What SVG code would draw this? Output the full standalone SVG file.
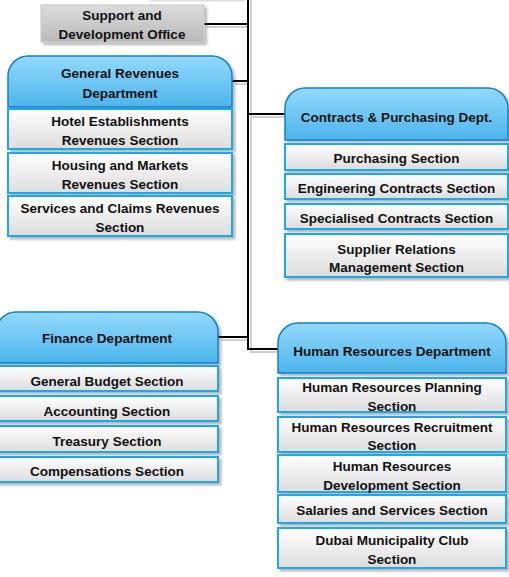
<svg xmlns="http://www.w3.org/2000/svg" width="509" height="577" viewBox="0 0 509 577">
<defs>
  <linearGradient id="hdr" x1="0" y1="0" x2="0" y2="1">
    <stop offset="0" stop-color="#93d9fc"/>
    <stop offset="1" stop-color="#4db5ec"/>
  </linearGradient>
  <linearGradient id="sec" x1="0" y1="0" x2="0" y2="1">
    <stop offset="0" stop-color="#ffffff"/>
    <stop offset="1" stop-color="#dcdcdc"/>
  </linearGradient>
  <linearGradient id="gry" x1="0" y1="0" x2="0" y2="1">
    <stop offset="0" stop-color="#dcdcdc"/>
    <stop offset="1" stop-color="#b9b9b9"/>
  </linearGradient>
  <filter id="sh" x="-10%" y="-20%" width="130%" height="160%">
    <feDropShadow dx="2.5" dy="2.5" stdDeviation="1.2" flood-color="#000" flood-opacity="0.28"/>
  </filter>
</defs>
<style>
  text { font-family: "Liberation Sans", Arial, sans-serif; font-weight: bold; font-size: 13.5px; fill: #111; text-anchor: middle; }
  .hdr { fill: url(#hdr); stroke: #1580c4; stroke-width: 1.5; filter: url(#sh); }
  .sec { fill: url(#sec); stroke: #1fa9ea; stroke-width: 2; filter: url(#sh); }
  .gry { fill: url(#gry); stroke: #c8c8c8; stroke-width: 1; filter: url(#sh); }
  .ln { fill: none; stroke: #000; stroke-width: 2; }
  .lns { fill: none; stroke: #d0d0d0; stroke-width: 2; }
</style>
<rect width="509" height="577" fill="#fff"/>
<line x1="150" y1="0.8" x2="245" y2="0.8" stroke="#dedede" stroke-width="1.5"/>

<g id="connectors">
  <path class="lns" d="M251,0 V352 H280 M207,27 H248 M235,84 H248 M251,117 H287 M221,340 H248"/>
  <path class="ln" d="M248,0 V349 H278 M204,24 H248 M232,81 H248 M248,114 H285 M218,337 H248"/>
</g>

<g id="support">
  <rect class="gry" x="41" y="5" width="163" height="37"/>
  <text x="122" y="20">Support and</text>
  <text x="122" y="39">Development Office</text>
</g>

<g id="general-revenues">
  <path class="hdr" d="M8,107 V76 A20,20 0 0 1 28,56 H212 A20,20 0 0 1 232,76 V107 Z"/>
  <text x="120" y="77.5">General Revenues</text>
  <text x="120" y="97.5">Department</text>
  <rect class="sec" x="8" y="109" width="224" height="40"/>
  <text x="120" y="126">Hotel Establishments</text>
  <text x="120" y="144.5">Revenues Section</text>
  <rect class="sec" x="8" y="153" width="224" height="40"/>
  <text x="120" y="170">Housing and Markets</text>
  <text x="120" y="189">Revenues Section</text>
  <rect class="sec" x="8" y="196" width="224" height="40"/>
  <text x="120" y="213">Services and Claims Revenues</text>
  <text x="120" y="232">Section</text>
</g>

<g id="contracts">
  <path class="hdr" d="M285,140 V108 A20,20 0 0 1 305,88 H488 A20,20 0 0 1 508,108 V140 Z"/>
  <text x="396.5" y="121.5">Contracts &amp; Purchasing Dept.</text>
  <rect class="sec" x="285" y="144" width="223" height="26"/>
  <text x="396.5" y="162.5">Purchasing Section</text>
  <rect class="sec" x="285" y="174" width="223" height="25"/>
  <text x="396.5" y="192.5">Engineering Contracts Section</text>
  <rect class="sec" x="285" y="204" width="223" height="25"/>
  <text x="396.5" y="222.5">Specialised Contracts Section</text>
  <rect class="sec" x="285" y="234" width="223" height="43"/>
  <text x="396.5" y="253.5">Supplier Relations</text>
  <text x="396.5" y="272">Management Section</text>
</g>

<g id="finance">
  <path class="hdr" d="M-4,363 V332 A20,20 0 0 1 16,312 H198 A20,20 0 0 1 218,332 V363 Z"/>
  <text x="107" y="342.5">Finance Department</text>
  <rect class="sec" x="-4" y="366" width="222" height="25"/>
  <text x="107" y="385.5">General Budget Section</text>
  <rect class="sec" x="-4" y="396" width="222" height="25"/>
  <text x="107" y="415.5">Accounting Section</text>
  <rect class="sec" x="-4" y="426" width="222" height="26"/>
  <text x="107" y="445.5">Treasury Section</text>
  <rect class="sec" x="-4" y="457" width="222" height="25"/>
  <text x="107" y="475.5">Compensations Section</text>
</g>

<g id="human-resources">
  <path class="hdr" d="M278,373 V343 A20,20 0 0 1 298,323 H486 A20,20 0 0 1 506,343 V373 Z"/>
  <text x="392" y="355.5">Human Resources Department</text>
  <rect class="sec" x="278" y="378" width="228" height="34"/>
  <text x="392" y="391.5">Human Resources Planning</text>
  <text x="392" y="410.5">Section</text>
  <rect class="sec" x="278" y="417" width="228" height="35"/>
  <text x="392" y="431.5">Human Resources Recruitment</text>
  <text x="392" y="450">Section</text>
  <rect class="sec" x="278" y="455" width="228" height="37"/>
  <text x="392" y="471">Human Resources</text>
  <text x="392" y="490">Development Section</text>
  <rect class="sec" x="278" y="495" width="228" height="28"/>
  <text x="392" y="514.5">Salaries and Services Section</text>
  <rect class="sec" x="278" y="528" width="228" height="40"/>
  <text x="392" y="545">Dubai Municipality Club</text>
  <text x="392" y="564">Section</text>
</g>
</svg>
